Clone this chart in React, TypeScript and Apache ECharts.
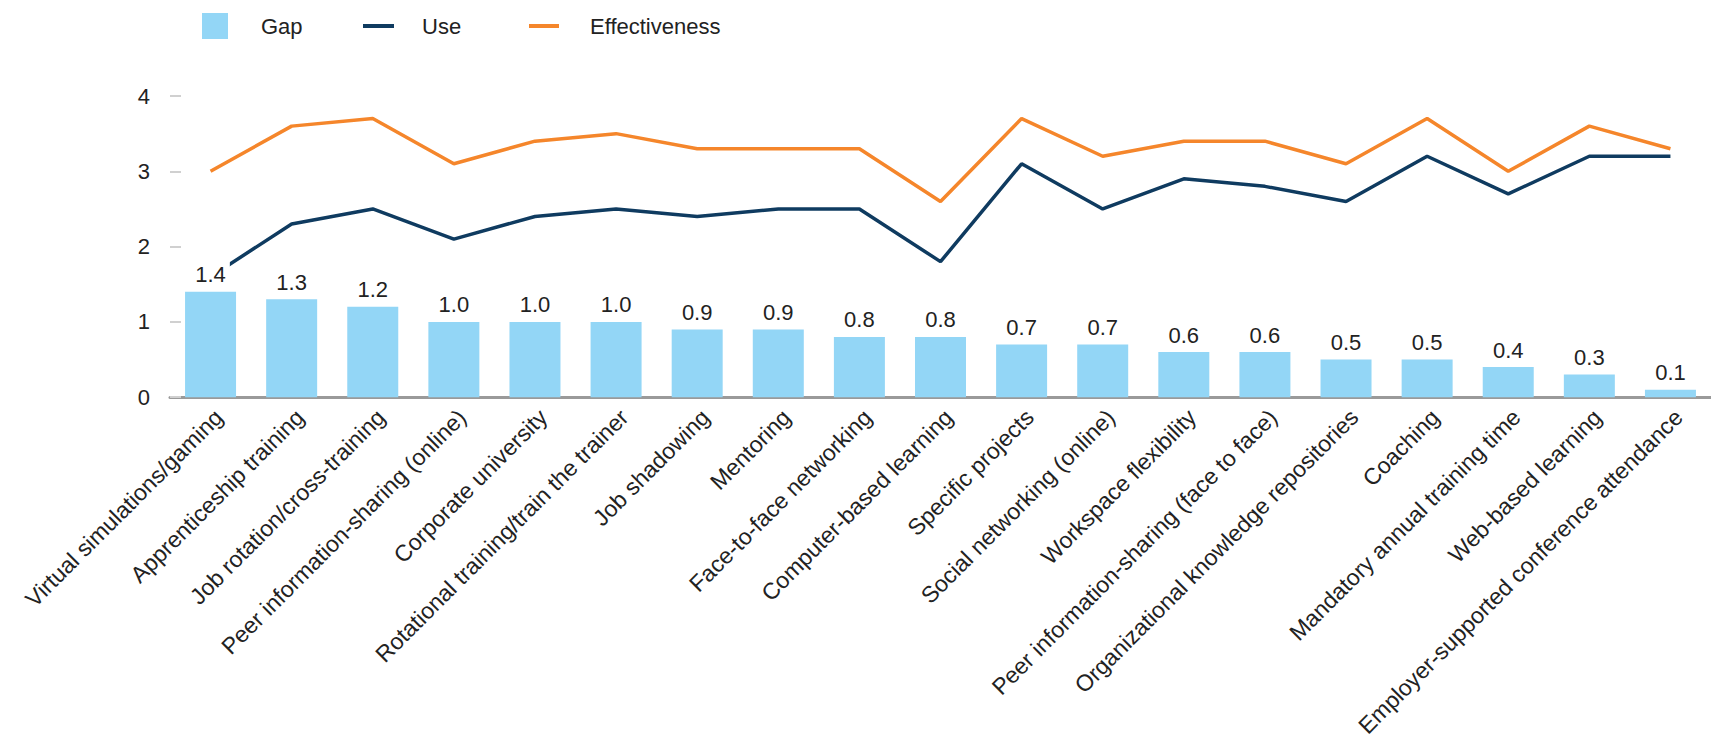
import React, { useEffect, useRef } from "react";
import * as echarts from "echarts";

const categories = [
  "Virtual simulations/gaming",
  "Apprenticeship training",
  "Job rotation/cross-training",
  "Peer information-sharing (online)",
  "Corporate university",
  "Rotational training/train the trainer",
  "Job shadowing",
  "Mentoring",
  "Face-to-face networking",
  "Computer-based learning",
  "Specific projects",
  "Social networking (online)",
  "Workspace flexibility",
  "Peer information-sharing (face to face)",
  "Organizational knowledge repositories",
  "Coaching",
  "Mandatory annual training time",
  "Web-based learning",
  "Employer-supported conference attendance",
];

const gap = [1.4, 1.3, 1.2, 1.0, 1.0, 1.0, 0.9, 0.9, 0.8, 0.8, 0.7, 0.7, 0.6, 0.6, 0.5, 0.5, 0.4, 0.3, 0.1];
const use = [1.6, 2.3, 2.5, 2.1, 2.4, 2.5, 2.4, 2.5, 2.5, 1.8, 3.1, 2.5, 2.9, 2.8, 2.6, 3.2, 2.7, 3.2, 3.2];
const effectiveness = [3.0, 3.6, 3.7, 3.1, 3.4, 3.5, 3.3, 3.3, 3.3, 2.6, 3.7, 3.2, 3.4, 3.4, 3.1, 3.7, 3.0, 3.6, 3.3];
const yTicks = [0, 1, 2, 3, 4];

const FONT = "'Liberation Sans', Arial, Helvetica, sans-serif";
const TEXT = "#222";
const GAP_COLOR = "#93d6f6";
const USE_COLOR = "#0f3b60";
const EFF_COLOR = "#f5862b";

export default function App() {
  const ref = useRef<HTMLDivElement>(null);

  useEffect(() => {
    document.body.style.margin = "0";
    if (!ref.current) return;
    const chart = echarts.init(ref.current, undefined, { renderer: "svg" });
    const legendText = (pad: number) => ({
      fontSize: 22,
      color: TEXT,
      fontFamily: FONT,
      lineHeight: 26,
      padding: [0, 0, 0, pad],
    });
    chart.setOption({
      animation: false,
      textStyle: { fontFamily: FONT },
      legend: [
        {
          data: ["Gap"],
          left: 197,
          top: 8,
          icon: "rect",
          itemWidth: 26,
          itemHeight: 26,
          textStyle: legendText(28),
          selectedMode: false,
        },
        {
          data: ["Use"],
          left: 358,
          top: 8,
          icon: "rect",
          itemWidth: 31,
          itemHeight: 4,
          textStyle: legendText(23),
          selectedMode: false,
        },
        {
          data: ["Effectiveness"],
          left: 524,
          top: 8,
          icon: "rect",
          itemWidth: 30,
          itemHeight: 4,
          textStyle: legendText(26),
          selectedMode: false,
        },
      ],
      grid: { left: 170, right: 0, top: 96, height: 304, containLabel: false },
      xAxis: {
        type: "category",
        data: categories,
        axisLine: { lineStyle: { color: "#9a9a9a", width: 3 } },
        axisTick: { show: false },
        axisLabel: {
          rotate: 45,
          interval: 0,
          fontSize: 23,
          color: TEXT,
          fontFamily: FONT,
          margin: 8,
          verticalAlign: "top",
        },
      },
      yAxis: {
        type: "value",
        min: yTicks[0],
        max: yTicks[yTicks.length - 1],
        interval: 1,
        axisLine: { show: false },
        axisTick: { show: true, inside: true, length: 11, lineStyle: { color: "#d0d0d0", width: 2 } },
        splitLine: { show: false },
        axisLabel: { fontSize: 22, color: TEXT, fontFamily: FONT, margin: 20 },
      },
      series: [
        {
          name: "Gap",
          type: "bar",
          data: gap,
          color: GAP_COLOR,
          barWidth: 51,
          z: 3,
          label: {
            show: true,
            position: "top",
            distance: 4,
            fontSize: 22,
            color: TEXT,
            fontFamily: FONT,
            backgroundColor: "#fff",
            padding: [2, 4],
            formatter: (p: any) => Number(p.value).toFixed(1),
          },
        },
        {
          name: "Use",
          type: "line",
          data: use,
          color: USE_COLOR,
          symbol: "none",
          z: 2,
          lineStyle: { width: 3.5, color: USE_COLOR },
        },
        {
          name: "Effectiveness",
          type: "line",
          data: effectiveness,
          color: EFF_COLOR,
          symbol: "none",
          z: 2,
          lineStyle: { width: 3.5, color: EFF_COLOR },
        },
      ],
    });
    return () => chart.dispose();
  }, []);

  return <div ref={ref} style={{ width: 1711, height: 740 }} />;
}
